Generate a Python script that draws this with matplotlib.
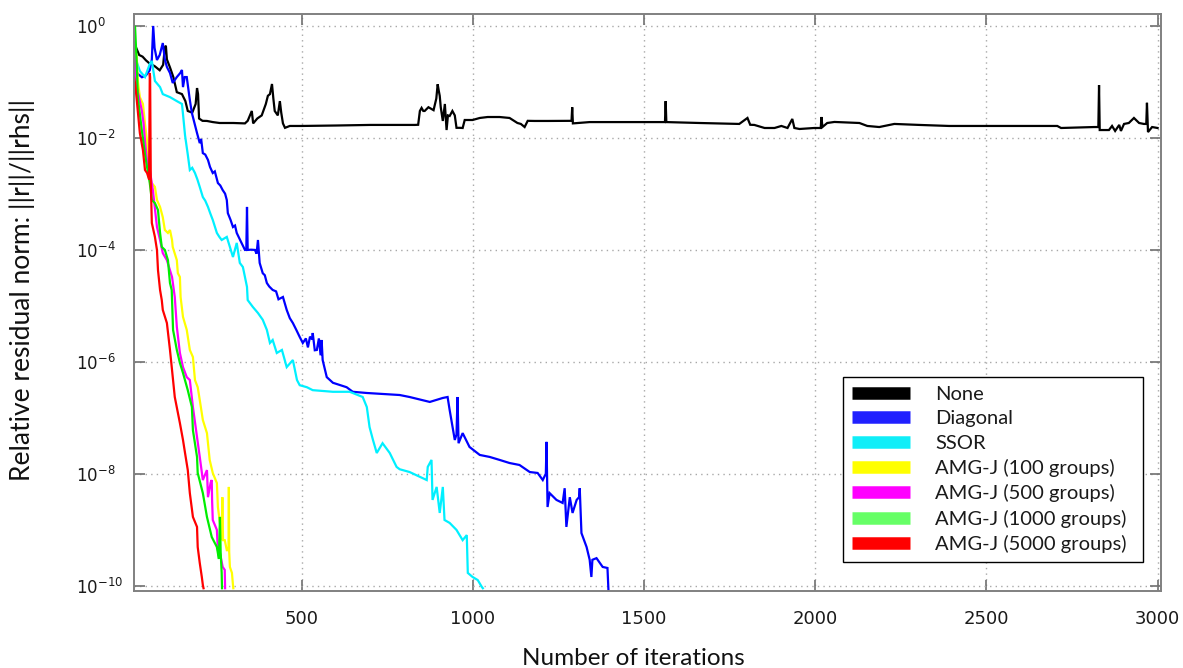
import matplotlib
matplotlib.use("Agg")
import matplotlib.pyplot as plt
from matplotlib.ticker import FixedLocator, NullLocator, LogFormatterSciNotation
from matplotlib.lines import Line2D

# Relative residual history (iteration, ||r||/||rhs||) for each preconditioner
none_pts = [
    (10, 0.50), (13, 0.45), (25, 0.30), (35, 0.28), (45, 0.24), (56, 0.21), (70, 0.19),
    (85, 0.16), (95, 0.20), (100, 0.40), (103, 0.44), (106, 0.25), (115, 0.18), (125, 0.12),
    (135, 0.065), (150, 0.060), (160, 0.045), (167, 0.030), (180, 0.028), (190, 0.040),
    (194, 0.077), (197, 0.060), (200, 0.022), (210, 0.020), (223, 0.0199), (240, 0.019),
    (260, 0.0183), (300, 0.0183), (334, 0.018), (342, 0.020), (354, 0.030), (358, 0.018),
    (370, 0.022), (383, 0.025), (395, 0.040), (401, 0.056), (407, 0.060), (413, 0.091),
    (417, 0.050), (421, 0.030), (430, 0.025), (436, 0.045), (440, 0.028), (445, 0.018),
    (451, 0.015), (465, 0.0162), (500, 0.0162), (600, 0.0165), (700, 0.0169), (786, 0.0169),
    (830, 0.0169), (840, 0.017), (845, 0.030), (850, 0.034), (855, 0.030), (859, 0.030),
    (870, 0.035), (885, 0.031), (893, 0.050), (897, 0.090), (900, 0.070), (903, 0.056),
    (906, 0.035), (912, 0.0199), (918, 0.040), (923, 0.0137), (927, 0.025), (932, 0.0244),
    (940, 0.030), (947, 0.025), (952, 0.015), (962, 0.015), (970, 0.0149), (976, 0.0207),
    (999, 0.0207), (1020, 0.0225), (1043, 0.0234), (1078, 0.0234), (1107, 0.0225),
    (1130, 0.0183), (1140, 0.0176), (1151, 0.0155), (1160, 0.020), (1180, 0.0199),
    (1220, 0.0199), (1260, 0.020), (1288, 0.020), (1290, 0.035), (1292, 0.018), (1306, 0.0183),
    (1341, 0.019), (1429, 0.019), (1545, 0.019), (1561, 0.019), (1563, 0.045), (1565, 0.019),
    (1662, 0.0183), (1778, 0.0176), (1802, 0.0225), (1810, 0.017), (1822, 0.0169),
    (1852, 0.0149), (1881, 0.0149), (1901, 0.0162), (1919, 0.0149), (1933, 0.0216),
    (1939, 0.0149), (1954, 0.0143), (1997, 0.0149), (2016, 0.0149), (2018, 0.0234),
    (2021, 0.0155), (2035, 0.0183), (2056, 0.0191), (2129, 0.0183), (2152, 0.0162),
    (2187, 0.0155), (2231, 0.0176), (2304, 0.0169), (2391, 0.0162), (2537, 0.0162),
    (2654, 0.0162), (2707, 0.0162), (2718, 0.0149), (2815, 0.0155), (2827, 0.0155),
    (2829, 0.087), (2831, 0.0137), (2858, 0.0137), (2867, 0.0162), (2876, 0.0132),
    (2888, 0.0169), (2893, 0.0132), (2902, 0.0176), (2916, 0.0183), (2931, 0.0225),
    (2946, 0.0183), (2960, 0.0176), (2967, 0.0176), (2969, 0.042), (2972, 0.0126),
    (2984, 0.0155), (3000, 0.0149),
]

diagonal_pts = [
    (5, 0.30), (20, 0.14), (33, 0.12), (45, 0.13), (56, 0.16), (62, 0.25), (66, 0.99),
    (70, 0.40), (77, 0.244), (85, 0.30), (94, 0.49), (100, 0.25), (106, 0.183), (115, 0.143),
    (123, 0.095), (135, 0.121), (145, 0.143), (150, 0.162), (153, 0.080), (158, 0.121),
    (164, 0.121), (173, 0.047), (179, 0.0276), (194, 0.0121), (202, 8.0e-3), (206, 9.5e-3),
    (211, 5.3e-3), (218, 5.0e-3), (226, 4.0e-3), (232, 3.0e-3), (240, 2.34e-3),
    (246, 2.5e-3), (255, 1.55e-3), (262, 1.4e-3), (269, 1.16e-3), (276, 1.0e-3),
    (281, 7.7e-4), (284, 4.5e-4), (292, 3.4e-4), (299, 2.54e-4), (305, 2.7e-4),
    (310, 1.99e-4), (322, 1.4e-4), (334, 9.9e-5), (338, 1.0e-4), (340, 5.8e-4),
    (342, 9.9e-5), (352, 1.0e-4), (363, 9.9e-5), (368, 8.5e-5), (372, 1.49e-4),
    (377, 5.8e-5), (386, 3.8e-5), (392, 3.5e-5), (398, 2.54e-5), (405, 2.2e-5),
    (415, 1.91e-5), (425, 1.8e-5), (432, 1.3e-5), (445, 1.43e-5), (456, 8.4e-6),
    (465, 6.0e-6), (474, 4.9e-6), (484, 3.7e-6), (494, 2.76e-6), (503, 2.16e-6),
    (512, 2.6e-6), (518, 1.8e-6), (524, 2.8e-6), (530, 2.5e-6), (532, 3.25e-6),
    (538, 1.6e-6), (544, 1.62e-6), (550, 2.6e-6), (555, 1.3e-6), (558, 2.44e-6),
    (561, 1.07e-6), (573, 5.3e-7), (591, 4.2e-7), (631, 3.5e-7), (649, 2.9e-7),
    (690, 2.76e-7), (786, 2.54e-7), (815, 2.34e-7), (874, 1.91e-7), (912, 2.25e-7),
    (926, 2.34e-7), (932, 1.37e-7), (947, 4.0e-8), (952, 5.0e-8), (955, 2.34e-7),
    (958, 3.5e-8), (970, 5.3e-8), (990, 3.0e-8), (1020, 2.16e-8), (1049, 1.99e-8),
    (1078, 1.76e-8), (1107, 1.55e-8), (1136, 1.43e-8), (1166, 1.07e-8), (1189, 1.03e-8),
    (1204, 7.7e-9), (1213, 1.0e-8), (1215, 3.7e-8), (1218, 2.54e-9), (1224, 4.5e-9),
    (1244, 3.4e-9), (1262, 3.0e-9), (1268, 5.5e-9), (1273, 1.12e-9), (1283, 3.8e-9),
    (1291, 1.99e-9), (1303, 3.4e-9), (1310, 3.8e-9), (1312, 5.5e-9), (1317, 8.7e-10),
    (1332, 4.9e-10), (1341, 2.9e-10), (1346, 1.43e-10), (1349, 2.9e-10), (1361, 3.1e-10),
    (1379, 2.16e-10), (1393, 2.07e-10), (1396, 8.0e-11),
]

ssor_pts = [
    (5, 0.45), (12, 0.30), (19, 0.216), (27, 0.155), (42, 0.121), (56, 0.207), (62, 0.234),
    (71, 0.103), (86, 0.080), (94, 0.060), (115, 0.053), (135, 0.045), (150, 0.040),
    (153, 0.0265), (159, 0.011), (167, 5.0e-3), (173, 2.65e-3), (180, 2.9e-3),
    (188, 2.34e-3), (195, 1.8e-3), (202, 1.32e-3), (211, 8.7e-4), (218, 7.5e-4),
    (226, 5.8e-4), (233, 4.4e-4), (240, 3.4e-4), (246, 2.6e-4), (252, 1.99e-4),
    (259, 1.7e-4), (266, 1.49e-4), (281, 1.69e-4), (290, 1.12e-4), (299, 7.4e-5),
    (310, 1.32e-4), (319, 5.8e-5), (328, 4.9e-5), (340, 2.16e-5), (342, 1.26e-5),
    (357, 9.5e-6), (372, 7.4e-6), (386, 5.6e-6), (398, 3.7e-6), (407, 2.16e-6),
    (415, 2.44e-6), (427, 1.43e-6), (442, 1.62e-6), (456, 8.0e-7), (474, 1.07e-6),
    (486, 4.7e-7), (494, 3.8e-7), (515, 3.5e-7), (532, 3.1e-7), (591, 2.9e-7),
    (640, 2.9e-7), (678, 2.34e-7), (690, 1.55e-7), (698, 6.8e-8), (708, 4.0e-8),
    (719, 2.34e-8), (736, 3.5e-8), (757, 2.34e-8), (777, 1.32e-8), (786, 1.2e-8),
    (815, 1.07e-8), (865, 7.7e-9), (868, 1.32e-8), (879, 1.76e-8), (882, 3.4e-9),
    (894, 5.8e-9), (903, 1.99e-9), (912, 5.8e-9), (917, 1.49e-9), (932, 1.32e-9),
    (952, 9.9e-10), (970, 6.5e-10), (982, 8.0e-10), (985, 1.69e-10), (999, 1.43e-10),
    (1014, 1.26e-10), (1026, 9.5e-11), (1029, 9.0e-11),
]

amg100_pts = [
    (5, 0.6), (13, 0.4), (18, 0.276), (21, 0.103), (27, 0.053), (36, 0.040), (42, 0.0176),
    (48, 8.7e-3), (51, 2.65e-3), (62, 1.55e-3), (71, 1.32e-3), (77, 7.7e-4), (86, 5.8e-4),
    (94, 3.8e-4), (100, 2.25e-4), (109, 1.99e-4), (115, 2.25e-4), (121, 1.49e-4),
    (123, 1.12e-4), (135, 6.5e-5), (138, 3.8e-5), (144, 3.25e-5), (146, 1.43e-5),
    (153, 6.3e-6), (164, 3.7e-6), (173, 1.62e-6), (182, 1.21e-6), (188, 4.7e-7),
    (196, 3.5e-7), (202, 2.07e-7), (211, 9.1e-8), (223, 5.3e-8), (231, 1.76e-8),
    (240, 1.03e-8), (252, 6.8e-9), (255, 2.54e-9), (261, 1.32e-9), (266, 6.5e-10),
    (268, 3.8e-9), (270, 6.5e-10), (275, 6.5e-10), (281, 4.3e-10), (286, 4.3e-10),
    (287, 5.8e-9), (288, 4.0e-10), (290, 2.16e-10), (296, 1.69e-10), (299, 1.03e-10),
    (300, 9.0e-11),
]

amg500_pts = [
    (10, 0.35), (18, 0.080), (27, 0.045), (33, 0.030), (38, 0.0176), (42, 8.7e-3),
    (48, 3.8e-3), (56, 2.65e-3), (65, 1.16e-3), (77, 2.54e-4), (86, 1.49e-4), (94, 8.7e-5),
    (106, 6.5e-5), (121, 3.25e-5), (129, 1.43e-5), (135, 4.2e-6), (144, 1.43e-6),
    (153, 8.0e-7), (164, 5.3e-7), (173, 4.7e-7), (182, 1.55e-7), (194, 4.5e-8),
    (202, 1.99e-8), (211, 7.7e-9), (223, 1.16e-8), (226, 3.8e-9), (234, 7.0e-9),
    (237, 7.7e-9), (238, 3.4e-9), (240, 1.49e-9), (252, 9.9e-10), (255, 4.3e-10),
    (261, 3.8e-10), (269, 2.16e-10), (275, 1.91e-10), (276, 9.0e-11),
]

amg1000_pts = [
    (10, 1.0), (13, 0.95), (18, 0.207), (21, 0.053), (33, 0.0132), (42, 5.1e-3),
    (48, 3.0e-3), (56, 1.55e-3), (62, 7.7e-4), (71, 6.8e-4), (80, 5.1e-4), (86, 1.99e-4),
    (91, 1.12e-4), (100, 9.9e-5), (109, 6.5e-5), (115, 2.54e-5), (120, 1.91e-5),
    (122, 8.4e-6), (124, 3.7e-6), (135, 1.62e-6), (144, 9.5e-7), (153, 6.3e-7),
    (167, 3.1e-7), (179, 1.55e-7), (182, 6.0e-8), (194, 1.99e-8), (196, 1.03e-8),
    (211, 4.5e-9), (223, 1.69e-9), (237, 7.4e-10), (252, 4.9e-10), (255, 3.8e-10),
    (258, 3.0e-10), (261, 1.69e-9), (263, 4.0e-10), (266, 1.69e-10), (267, 9.0e-11),
]

amg5000_pts = [
    (10, 0.12), (13, 0.095), (18, 0.047), (27, 0.0121), (36, 6.0e-3), (42, 2.65e-3),
    (48, 2.34e-3), (54, 1.8e-3), (56, 0.143), (57, 0.12), (59, 1.55e-3), (62, 3.0e-4),
    (71, 1.69e-4), (77, 9.9e-5), (80, 4.3e-5), (86, 1.91e-5), (91, 1.26e-5), (94, 8.4e-6),
    (106, 4.9e-6), (115, 1.62e-6), (121, 7.1e-7), (129, 2.34e-7), (144, 8.0e-8),
    (153, 4.0e-8), (159, 2.34e-8), (167, 1.16e-8), (173, 4.5e-9), (182, 1.69e-9),
    (194, 1.12e-9), (196, 4.9e-10), (202, 2.54e-10), (208, 1.43e-10), (211, 1.03e-10),
    (213, 9.0e-11),
]

series_labels = ["None", "Diagonal", "SSOR", "AMG-J (100 groups)", "AMG-J (500 groups)",
                 "AMG-J (1000 groups)", "AMG-J (5000 groups)"]
series_colors = ["#000000", "#0000ff", "#00f0ff", "#ffff00", "#ff00ff", "#00ee00", "#ff0000"]
legend_colors = ["#000000", "#2020ff", "#10eef8", "#ffff00", "#ff00ff", "#66ff66", "#ff0000"]
series_data = [none_pts, diagonal_pts, ssor_pts, amg100_pts, amg500_pts, amg1000_pts, amg5000_pts]

x_ticks = [500, 1000, 1500, 2000, 2500, 3000]
y_ticks = [1e0, 1e-2, 1e-4, 1e-6, 1e-8, 1e-10]

label_font = ["Lato", "DejaVu Sans"]

fig = plt.figure(figsize=(11.83, 6.68), dpi=100)
fig.patch.set_facecolor("white")
ax = fig.add_axes([0.1133, 0.1153, 0.8681, 0.8638])

for pts, color, label in zip(series_data, series_colors, series_labels):
    it = [p[0] for p in pts]
    res = [p[1] for p in pts]
    ax.plot(it, res, color=color, lw=1.6, label=label, solid_joinstyle="miter")

ax.set_yscale("log")
ax.set_xlim(10, 3010)
ax.set_ylim(8.04e-11, 1.62)

ax.xaxis.set_major_locator(FixedLocator(x_ticks))
ax.yaxis.set_major_locator(FixedLocator(y_ticks))
ax.yaxis.set_major_formatter(LogFormatterSciNotation())
ax.yaxis.set_minor_locator(NullLocator())
ax.xaxis.set_minor_locator(NullLocator())

ax.grid(True, which="major", linestyle=(0, (1, 3)), color="#a8a8a8", linewidth=1.0)
ax.set_axisbelow(True)

for s in ax.spines.values():
    s.set_color("#808080")
    s.set_linewidth(1.4)

ax.tick_params(axis="both", which="major", direction="in", length=8, width=1.2,
               color="#707070", top=True, right=True)
ax.tick_params(axis="x", labelsize=13, pad=14, labelcolor="#1a1a1a")
ax.tick_params(axis="y", labelsize=12, pad=42, labelcolor="#1a1a1a")
for lab in ax.get_yticklabels():
    lab.set_horizontalalignment("left")

fig.text(0.535, 1 - 665 / 668, "Number of iterations", family=label_font, fontsize=17.5,
         ha="center", va="baseline", color="#111111")
fig.text(0.019, 1 - 290 / 668, "Relative residual norm: ||r||/||rhs||", family=label_font,
         fontsize=19, rotation=90, ha="center", va="center", color="#111111")

handles = [Line2D([0], [0], color=c, lw=9, solid_capstyle="butt") for c in legend_colors]
leg = ax.legend(handles, series_labels, loc="lower left",
                bbox_to_anchor=(0.690, 0.0503, 0.2925, 0.3223), mode="expand",
                prop={"family": label_font, "size": 14.5}, frameon=True, fancybox=False,
                edgecolor="#000000", framealpha=1.0, borderpad=0.45, labelspacing=0.36,
                handlelength=2.9, handletextpad=1.25, borderaxespad=0.0)
leg.get_frame().set_linewidth(1.0)
for t in leg.get_texts():
    t.set_color("#1a1a1a")

fig.savefig("out.png", dpi=100, facecolor="white")
